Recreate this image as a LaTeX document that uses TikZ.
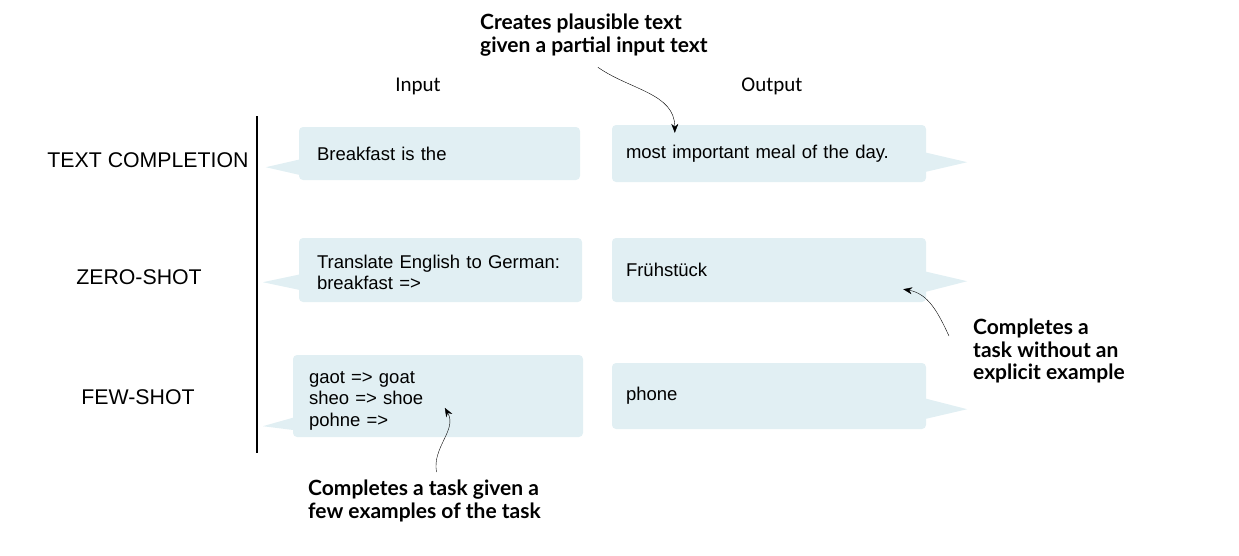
\documentclass[tikz,border=0pt]{standalone}
\usepackage{fontspec}
\setmainfont{Liberation Sans}
\newfontfamily\headfont{Carlito}
\newfontfamily\notefont{Lato}
\usetikzlibrary{arrows.meta}
\definecolor{bubble}{RGB}{225,239,243}

\begin{document}
\begin{tikzpicture}[x=1pt,y=-1pt,line join=round,>={Stealth[length=9pt,width=7pt]},
    inbox/.style={fill=bubble,rounded corners=4pt,inner xsep=18pt,inner ysep=0pt,
        align=left,font=\fontsize{18.5}{21.5}\selectfont},
    outbox/.style={inbox,inner xsep=14pt,text width=286pt},
    rowlabel/.style={font=\fontsize{21.3}{24}\selectfont},
    colhead/.style={font=\headfont\fontsize{21}{24}\selectfont},
    note/.style={font=\notefont\bfseries\fontsize{21}{22.5}\selectfont,
        align=left,anchor=north west,inner sep=0pt}]
  \useasboundingbox (0,0) rectangle (1239,555);

  % headers and row labels
  \node[colhead] (input) at (418,86) {Input};
  \node[colhead] (output) at (772,86) {Output};
  \node[rowlabel] (textcomp) at (148,160) {TEXT COMPLETION};
  \node[rowlabel] (zeroshot) at (139,277) {ZERO-SHOT};
  \node[rowlabel] (fewshot) at (138,397) {FEW-SHOT};
  \draw [line width=1.2pt] (257,116) -- (257,453);

  % speech bubbles
  \node[inbox,text width=245pt,minimum height=53pt] (in1) at (439.5,153.5) {Breakfast is the};
  \node[inbox,text width=247pt,minimum height=64pt] (in2) at (440.5,270) {\rule{0pt}{18.5pt}Translate English to German:\\breakfast =>};
  \node[inbox,inner xsep=16pt,text width=258pt,minimum height=82pt] (in3) at (438,396) {\rule{0pt}{21pt}gaot => goat\\sheo => shoe\\pohne =>};
  \node[outbox,minimum height=57pt] (out1) at (769,153.5) {most important meal of the day.};
  \node[outbox,minimum height=64pt] (out2) at (769,270) {Frühstück};
  \node[outbox,minimum height=66pt] (out3) at (769,396) {phone};
  \foreach \b/\lo/\hi/\dx/\dy in {in1/5/21/-33/13, in2/12/28/-36/20, in3/7/20/-30/11} {
      \fill [bubble] ([xshift=2pt,yshift=\lo pt]\b.south west) -- ([xshift=\dx pt,yshift=\dy pt]\b.south west)
        -- ([xshift=2pt,yshift=\hi pt]\b.south west) -- cycle;
    }
  \foreach \b/\lo/\hi/\dx/\dy in {out1/10/30/41/20, out2/10/31/41/21, out3/10/31/41/20} {
      \fill [bubble] ([xshift=-2pt,yshift=\lo pt]\b.south east) -- ([xshift=\dx pt,yshift=\dy pt]\b.south east)
        -- ([xshift=-2pt,yshift=\hi pt]\b.south east) -- cycle;
    }

  % annotations
  \node[note] (plausible) at (480,14) {Creates plausible text\\given a partial input text};
  \node[note] (zeronote) at (973,319) {Completes a\\task without an\\explicit example};
  \node[note] (fewnote) at (308,480) {Completes a task given a\\few examples of the task};
  \draw [->] ([xshift=4pt,yshift=-11pt]plausible.south) to[out=-35,in=90] ([xshift=63pt,yshift=-8pt]out1.north west);
  \draw [->] ([xshift=-24pt,yshift=-17pt]zeronote.north west) to[out=115,in=-10] ([xshift=-23pt,yshift=13pt]out2.south east);
  \draw [->] ([xshift=12pt,yshift=8pt]fewnote.north) to[out=100,in=-60] ([xshift=152pt,yshift=-53pt]in3.north west);
\end{tikzpicture}
\end{document}
